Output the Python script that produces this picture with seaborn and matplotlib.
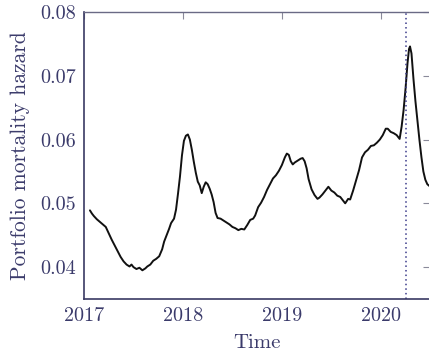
import matplotlib
matplotlib.use("Agg")
import matplotlib.pyplot as plt
import seaborn as sns
import pandas as pd

# fractional year
time = [2017.06, 2017.08, 2017.10, 2017.13, 2017.16, 2017.19, 2017.22, 2017.25, 2017.28, 2017.31,
        2017.34, 2017.37, 2017.40, 2017.43, 2017.46, 2017.48, 2017.50, 2017.53, 2017.56, 2017.59,
        2017.62, 2017.64, 2017.67, 2017.70, 2017.73, 2017.76, 2017.79, 2017.81, 2017.84, 2017.86,
        2017.88, 2017.91, 2017.93, 2017.95, 2017.97, 2017.99, 2018.01, 2018.03, 2018.05, 2018.07,
        2018.09, 2018.11, 2018.13, 2018.15, 2018.17, 2018.19, 2018.21, 2018.23, 2018.25, 2018.27,
        2018.29, 2018.31, 2018.33, 2018.35, 2018.38, 2018.41, 2018.44, 2018.47, 2018.50, 2018.53,
        2018.56, 2018.59, 2018.62, 2018.65, 2018.68, 2018.71, 2018.73, 2018.76, 2018.79, 2018.82,
        2018.85, 2018.88, 2018.91, 2018.94, 2018.97, 2019.00, 2019.03, 2019.05, 2019.07, 2019.09,
        2019.11, 2019.13, 2019.16, 2019.19, 2019.21, 2019.23, 2019.25, 2019.27, 2019.30, 2019.33,
        2019.36, 2019.38, 2019.41, 2019.44, 2019.47, 2019.50, 2019.53, 2019.56, 2019.59, 2019.62,
        2019.64, 2019.67, 2019.69, 2019.72, 2019.75, 2019.78, 2019.81, 2019.84, 2019.87, 2019.90,
        2019.93, 2019.96, 2019.99, 2020.02, 2020.05, 2020.07, 2020.10, 2020.13, 2020.16, 2020.19,
        2020.21, 2020.23, 2020.25, 2020.27, 2020.285, 2020.295, 2020.31, 2020.33, 2020.35, 2020.37,
        2020.39, 2020.41, 2020.43, 2020.45, 2020.47, 2020.50]

hazard = [0.0489, 0.0484, 0.0480, 0.0475, 0.0471, 0.0467, 0.0463, 0.0453, 0.0443, 0.0434,
          0.0425, 0.0416, 0.0409, 0.0404, 0.0401, 0.0404, 0.0400, 0.0397, 0.0399, 0.0395,
          0.0398, 0.0401, 0.0404, 0.0410, 0.0413, 0.0417, 0.0428, 0.0440, 0.0452, 0.0460,
          0.0469, 0.0476, 0.0490, 0.0515, 0.0542, 0.0575, 0.0598, 0.0606, 0.0608, 0.0600,
          0.0584, 0.0565, 0.0548, 0.0534, 0.0528, 0.0516, 0.0526, 0.0533, 0.0530, 0.0523,
          0.0514, 0.0502, 0.0485, 0.0477, 0.0476, 0.0473, 0.0470, 0.0467, 0.0463, 0.0461,
          0.0458, 0.0460, 0.0459, 0.0466, 0.0474, 0.0476, 0.0481, 0.0494, 0.0501, 0.0510,
          0.0521, 0.0530, 0.0539, 0.0544, 0.0551, 0.0560, 0.0572, 0.0578, 0.0576, 0.0566,
          0.0561, 0.0564, 0.0567, 0.0570, 0.0571, 0.0566, 0.0555, 0.0538, 0.0522, 0.0513,
          0.0507, 0.0509, 0.0514, 0.0520, 0.0526, 0.0520, 0.0517, 0.0512, 0.0510, 0.0504,
          0.0500, 0.0507, 0.0506, 0.0520, 0.0536, 0.0552, 0.0572, 0.0580, 0.0584, 0.0590,
          0.0591, 0.0595, 0.0600, 0.0607, 0.0617, 0.0617, 0.0612, 0.0610, 0.0607, 0.0601,
          0.0620, 0.0646, 0.0680, 0.0720, 0.0742, 0.0746, 0.0735, 0.0695, 0.0660, 0.0630,
          0.0600, 0.0573, 0.0550, 0.0537, 0.0530, 0.0526]

x_ticks = [2017, 2018, 2019, 2020]
x_tick_labels = ["2017", "2018", "2019", "2020"]
y_ticks = [0.04, 0.05, 0.06, 0.07, 0.08]
y_tick_labels = ["0.04", "0.05", "0.06", "0.07", "0.08"]
event_time = 2020.253

sns.set_theme(style="white")
plt.rcParams["font.family"] = ["cmr10", "DejaVu Serif"]
plt.rcParams["mathtext.fontset"] = "cm"
plt.rcParams["axes.formatter.use_mathtext"] = True

text_col = "#3b3b6b"
spine_col = "#3a3a63"

df = pd.DataFrame({"Time": time, "hazard": hazard})

fig = plt.figure(figsize=(4.29, 3.56), dpi=100)
ax = fig.add_axes([84 / 429, 57 / 356, 1.003 - 84 / 429, (299 - 12) / 356])

sns.lineplot(data=df, x="Time", y="hazard", ax=ax, color="#111111", linewidth=1.4)
ax.axvline(event_time, color="#3a3a8a", linestyle=(0, (1, 2)), linewidth=1.1)

ax.set_xlim(2017, 2020.5)
ax.set_ylim(0.035, 0.08)
ax.set_xticks(x_ticks)
ax.set_xticklabels(x_tick_labels)
ax.set_yticks(y_ticks)
ax.set_yticklabels(y_tick_labels)

ax.tick_params(axis="both", direction="in", length=5, width=0.8, color="#8a8a9a",
               labelsize=14.5, labelcolor=text_col, top=True, right=True, pad=6)
ax.set_xlabel("Time", fontsize=15, color=text_col, labelpad=6)
ax.set_ylabel("Portfolio mortality hazard", fontsize=15.5, color=text_col, labelpad=7)

for side in ["left", "bottom"]:
    ax.spines[side].set_color(spine_col)
    ax.spines[side].set_linewidth(1.2)
ax.spines["top"].set_color("#6a6a85")
ax.spines["top"].set_linewidth(1.0)
ax.spines["right"].set_visible(False)

fig.savefig("out.png", dpi=100)
